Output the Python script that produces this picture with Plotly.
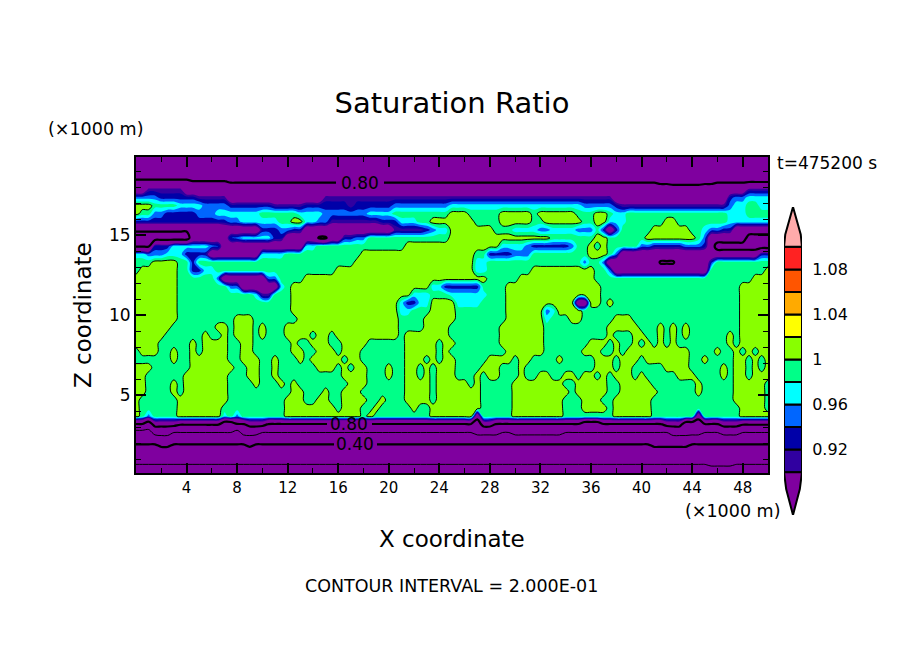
import numpy as np
import plotly.graph_objects as go

W, H = 904, 654
PLOT_L, PLOT_R, PLOT_T, PLOT_B = 136, 768, 157, 473

# saturation ratio, one code per band
VALUES = {'q': .76, 'x': .775, 's': .79, 'z': .801, 'r': .81, 't': .85, 'p': .85, 'b': .91, 'n': .93, 'B': .95,
          'c': .97, 'g': .99, 'y': 1.01, 'u': .72, 'o': .60, 'v': .53, 'w': .66,
          'l': .50, 'k': .46, 'i': .37, 'h': .33, 'f': .27, 'e': .21, 'd': .195, 'a': .14}

# rows run from the top of the domain down, "code + end column"
ROWS = [
    "q101",
    "q101",
    "q101",
    "r9 z15 s83 x85 q90 x92 s101",
    "p2 b8 p97 b101",
    "B4 n10 b15 p30 b76 p94 n95 B97 c101",
    "y3 g7 c11 B15 n22 b27 n34 b35 n41 B50 c71 B76 n77 b94 B95 c97 g99 c101",
    "y1 g3 B5 n10 B13 c20 g26 c30 B37 c41 g50 y53 g58 y63 g64 y70 g73 y75 g76 c78 g94 c97 g101",
    "n15 B17 c23 g25 y27 c29 B31 b39 n42 c45 g47 y54 g58 y63 g65 y71 g73 y75 c78 g84 y86 g94 c101",
    "r14 p20 n23 B25 n27 p41 b46 n47 B48 c50 y57 g60 c64 B66 c70 B73 g74 n75 p76 n77 g82 y88 g90 c91 B93 n95 p101",
    "q9 p15 B17 c22 n24 p29 s31 p33 n35 B37 g50 y66 g68 g73 y75 g81 y89 g90 B91 p97 q101",
    "s3 n6 c12 B14 p27 c29 g43 y58 c62 B63 n69 B70 g72 y73 g74 y75 g80 B82 n87 B90 n91 p92 q101",
    "c2 B5 c8 n12 p20 c24 g36 y54 g56 n60 B63 g72 y75 g76 B77 p99 n101",
    "g3 y7 g9 n10 g35 y54 c56 g71 B72 g74 B75 p83 s86 p91 n92 g101",
    "g1 y7 g9 n11 c13 g32 y54 c56 g63 y73 g75 B76 p91 g100 y101",
    "y7 g13 B14 p21 B23 g27 y56 g61 y73 g98 y101",
    "y7 g15 B17 p23 c24 g25 y47 c49 n55 g59 y74 g96 y101",
    "y7 g19 c20 b22 g25 y44 c47 g50 c56 g59 y74 g96 y101",
    "y7 g25 y42 c43 n45 c47 y51 c55 g59 y70 p72 y74 g75 y76 g96 y101",
    "y7 g25 y42 c44 g47 y51 g59 y65 B66 c67 y71 g96 y101",
    "y7 g16 y19 g26 y42 g46 y51 g59 y65 c66 g69 y71 g76 y79 g96 y101",
    "y6 g13 y15 g16 y19 g20 y21 g24 y42 g46 y50 g58 y65 g75 y76 g76 y80 g83 y84 g85 y86 g87 y88 g96 y101",
    "y5 g11 y12 g14 y15 g16 y19 g20 y21 g24 y28 g29 y31 g32 y42 g43 y50 g58 y65 g75 y76 g79 y81 g83 y84 g85 y86 g87 y88 g94 y95 g96 y101",
    "y4 g9 y10 g11 y15 g17 y19 g25 y26 g28 y31 g33 y37 g43 y48 g49 y51 g58 y65 g72 y75 g76 y77 g79 y80 g81 y82 g83 y84 g85 y86 g94 y95 g96 y101",
    "g1 y4 g6 y7 g9 y10 g11 y15 g17 y19 g25 y27 g29 y32 g33 y36 g43 y48 g49 y50 g59 y65 g71 y74 g76 y77 g78 y88 g92 y93 g95 y96 g97 y98 g99 y101",
    "g6 y7 g9 y15 g17 y20 g22 y23 g26 y27 g28 y33 g34 y36 g43 y46 g47 y48 g49 y51 g56 y60 g61 y63 g67 y68 g73 y76 g77 y80 g81 y88 g90 y91 g95 y97 g98 y99 g100 y101",
    "y3 g9 y16 g18 y20 g22 y23 g29 y32 g33 y34 g35 y37 g40 y41 g43 y45 g46 y47 g48 y51 g55 y58 g61 y62 g73 y76 g77 y79 g84 y88 g93 y94 g95 y97 g98 y99 g100 y101",
    "y2 g8 y15 g18 y20 g22 y23 g33 y37 g40 y41 g43 y45 g46 y47 g48 y51 g54 y55 g56 y58 g61 y62 g64 y66 g68 y70 g71 y73 g74 y75 g76 y79 g80 y81 g86 y89 g93 y94 g95 y97 g98 y99 g99 y101",
    "y2 g6 y7 g8 y15 g19 y20 g23 y24 g25 y26 g34 y37 g43 y47 g48 y53 g54 y55 g60 y68 g70 y75 g77 y82 g89 y90 g91 y91 g95 y100 g101",
    "y2 g6 y7 g8 y15 g25 y27 g30 y31 g33 y36 g43 y47 g48 y55 g60 y69 g70 y75 g77 y83 g89 y90 g95 y100 g101",
    "y1 g7 y15 g24 y27 g29 y31 g33 y37 g39 y40 g43 y47 g48 y55 g60 y68 g71 y74 g76 y82 g95 y100 g101",
    "y1 g7 y14 g24 y32 g33 y36 g38 y39 g44 y45 g47 y55 g60 y68 g71 y75 g76 y82 g96 y100 g101",
    "y1 g2 B3 g7 y14 c15 g16 B17 g24 y36 g37 y38 g47 y54 p55 g60 y68 g72 g76 y82 g89 p90 g96 y101",
    "s2 u3 t7 r14 u16 s18 t21 s54 u55 t57 s71 u74 s84 t87 u90 s93 t96 r101",
    "v3 w6 o16 v17 w20 o54 w58 o60 w68 o85 w90 o93 w96 o101",
    "k4 l6 k18 l19 k82 l88 k101",
    "h4 i6 h18 i19 h82 i88 h101",
    "f101",
    "d91 e95 d101",
    "a101",
]

N_COLS = 101
X_KM = [i * 0.5 for i in range(N_COLS)]
Z_KM = list(np.linspace(19.875, 0.125, len(ROWS)))

LEVELS = [0.90, 0.92, 0.94, 0.96, 0.98, 1.00, 1.02, 1.04, 1.06, 1.08]
BAND_COLORS = ['#3000a0', '#0000a8', '#0066ff', '#00ffff', '#00ff88',
               '#88ff00', '#ffff00', '#ffaa00', '#ff5500', '#ff2222']
COLOR_BELOW = '#7f009f'
COLOR_ABOVE = '#ffaaaa'
CBAR_TICKS = [0.92, 0.96, 1.0, 1.04, 1.08]
CBAR_TICK_TEXT = ['0.92', '0.96', '1', '1.04', '1.08']
X_TICKS = list(range(4, 49, 4))
Z_TICKS = [5, 10, 15]

FONT = 'DejaVu Sans'


def expand(row):
    out = []
    for tok in row.split():
        end = int(tok[1:])
        out += [VALUES[tok[0]]] * (end - len(out))
    return out[:N_COLS]


def px(x):
    return x / W


def py(y):
    return 1 - y / H


z = np.array([expand(r) for r in ROWS])
all_colors = [COLOR_BELOW] + BAND_COLORS + [COLOR_ABOVE]
colorscale = [[i / (len(all_colors) - 1), c] for i, c in enumerate(all_colors)]

fig = go.Figure()
fig.add_trace(go.Contour(
    x=X_KM, y=Z_KM, z=z, colorscale=colorscale, showscale=False,
    contours=dict(coloring='fill', start=0.9, end=1.1, size=0.02, showlines=False),
    line=dict(width=0), hoverinfo='skip',
))
# contour interval 0.2, every other line is heavier
fig.add_trace(go.Contour(
    x=X_KM, y=Z_KM, z=z, showscale=False,
    contours=dict(coloring='none', start=0.2, end=1.0, size=0.4),
    line=dict(color='black', width=1), hoverinfo='skip',
))
fig.add_trace(go.Contour(
    x=X_KM, y=Z_KM, z=z, showscale=False,
    contours=dict(coloring='none', start=0.4, end=0.8, size=0.4),
    line=dict(color='black', width=2.2), hoverinfo='skip',
))

# colour key on its own small axes
fig.add_trace(go.Bar(
    x=[0.5] * len(LEVELS), y=[0.02] * len(LEVELS), base=LEVELS, width=1,
    marker=dict(color=BAND_COLORS, line=dict(color='black', width=2)),
    xaxis='x2', yaxis='y2', hoverinfo='skip', showlegend=False,
))

key_top = 1.1 + 40 * 0.02 / 22.6
key_bot = 0.9 - 43 * 0.02 / 22.6
shapes = [
    dict(type='path', xref='x2', yref='y2', fillcolor=COLOR_ABOVE, line=dict(color='black', width=2),
         path=f'M 0 1.1 L 0.07 1.111 L 0.5 {key_top} L 0.93 1.111 L 1 1.1 Z'),
    dict(type='path', xref='x2', yref='y2', fillcolor=COLOR_BELOW, line=dict(color='black', width=2),
         path=f'M 0 0.9 L 0.12 0.885 L 0.5 {key_bot} L 0.88 0.885 L 1 0.9 Z'),
]
# gaps in the contour lines behind their labels
for x0, x1, y0, y1 in [(336, 384, 177, 189), (327, 372, 421, 430), (334, 377, 439, 449)]:
    shapes.append(dict(type='rect', xref='paper', yref='paper', x0=px(x0), x1=px(x1), y0=py(y1), y1=py(y0),
                       fillcolor=COLOR_BELOW, line=dict(width=0), layer='above'))

notes = [
    ('(×1000 m)', 95, 129, 17.5, 0),
    ('(×1000 m)', 732, 511, 17.5, 0),
    ('t=475200 s', 827, 163, 17, 0),
    ('X coordinate', 452, 539, 23, 0),
    ('Z coordinate', 83, 315, 23, -90),
    ('CONTOUR INTERVAL = 2.000E-01', 451, 586, 17.5, 0),
    ('0.80', 360, 183, 17, 0),
    ('0.80', 349, 424, 17, 0),
    ('0.40', 355, 444, 17, 0),
]
annotations = [
    dict(text=t, x=px(x), y=py(y), xref='paper', yref='paper', showarrow=False,
         font=dict(family=FONT, size=s, color='black'), textangle=a,
         xanchor='center', yanchor='middle')
    for t, x, y, s, a in notes
]

fig.update_layout(
    width=W, height=H, autosize=False,
    paper_bgcolor='white', plot_bgcolor='white',
    margin=dict(l=0, r=0, t=0, b=0, autoexpand=False),
    title=dict(text='Saturation Ratio', x=px(452), y=py(103), xanchor='center', yanchor='middle',
               font=dict(family=FONT, size=29, color='black')),
    showlegend=False, barmode='overlay',
    shapes=shapes, annotations=annotations,
    xaxis=dict(domain=[px(PLOT_L), px(PLOT_R)], range=[0, 50], tickvals=X_TICKS, ticks='inside', ticklen=10, tickwidth=2,
               tickcolor='black', mirror='allticks', showline=True, linewidth=2, linecolor='black',
               showgrid=False, zeroline=False,
               minor=dict(ticks='inside', dtick=2, tick0=0, ticklen=5, tickwidth=1, tickcolor='black', showgrid=False),
               tickfont=dict(family=FONT, size=15, color='black')),
    yaxis=dict(domain=[py(PLOT_B), py(PLOT_T)], range=[0.125, 19.875], tickvals=Z_TICKS, ticks='inside', ticklen=10, tickwidth=2,
               tickcolor='black', mirror='allticks', showline=True, linewidth=2, linecolor='black',
               showgrid=False, zeroline=False,
               minor=dict(ticks='inside', dtick=1, tick0=0, ticklen=5, tickwidth=1, tickcolor='black', showgrid=False),
               tickfont=dict(family=FONT, size=17, color='black')),
    xaxis2=dict(domain=[px(784), px(802)], range=[0, 1], anchor='y2', visible=False),
    yaxis2=dict(domain=[py(515), py(207)], range=[key_bot, key_top], anchor='x2', side='right',
                tickvals=CBAR_TICKS, ticktext=CBAR_TICK_TEXT, ticks='outside', ticklen=6,
                tickcolor='rgba(0,0,0,0)', showline=False, showgrid=False, zeroline=False,
                tickfont=dict(family=FONT, size=16, color='black')),
)

fig.write_html("out.html", config=dict(displayModeBar=False), post_script="document.body.style.margin='0'")
